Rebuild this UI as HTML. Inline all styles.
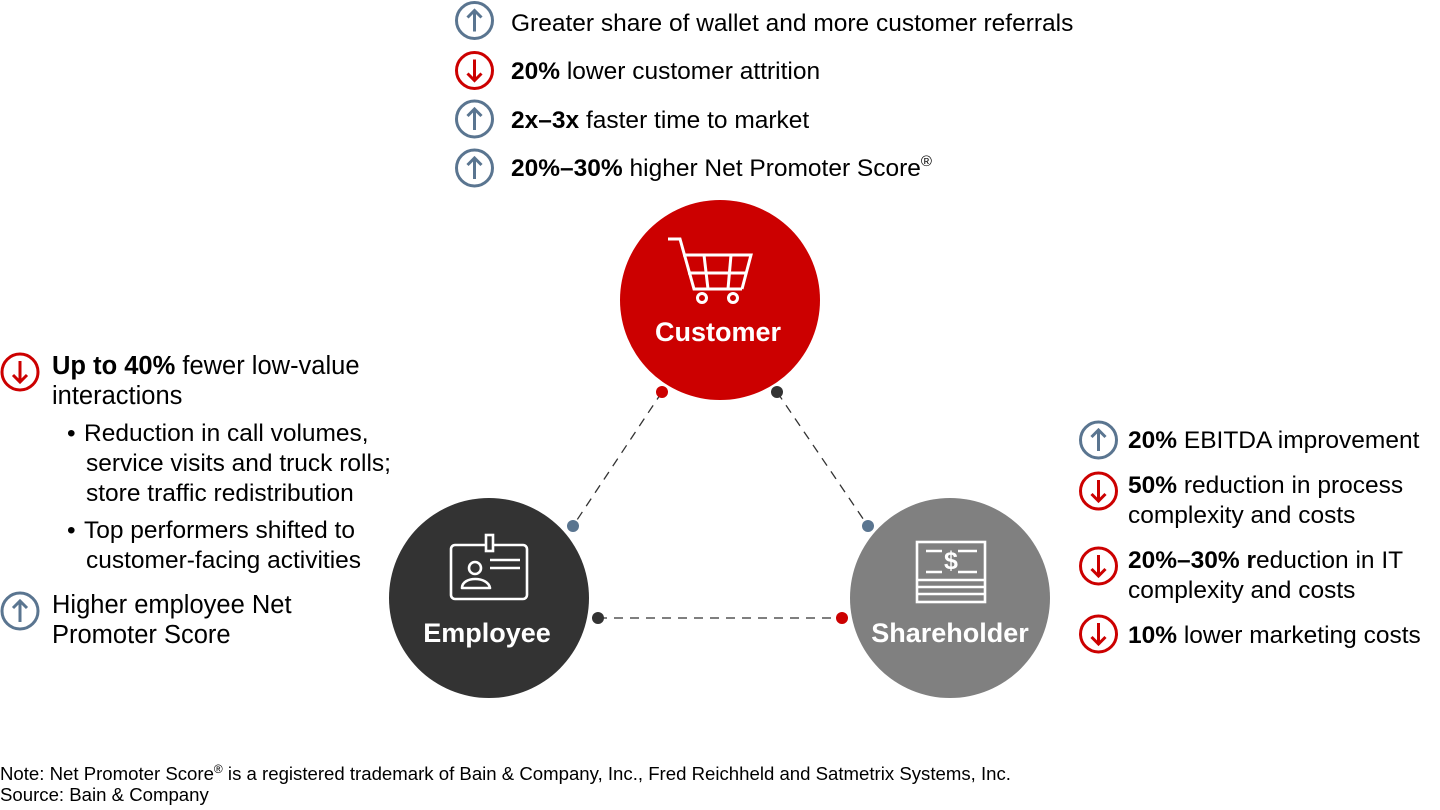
<!DOCTYPE html>
<html>
<head>
<meta charset="utf-8">
<style>
  html, body { margin:0; padding:0; background:#fff; }
  body { width:1440px; height:810px; overflow:hidden; }
  svg { display:block; }
  text { font-family: "Liberation Sans", Arial, sans-serif; fill:#000; }
  .t { font-size:24.5px; }
  .tl { font-size:25.5px; }
  .b { font-weight:bold; }
  .lbl { font-size:27px; font-weight:bold; fill:#fff; }
  .note { font-size:18.6px; }
</style>
</head>
<body>
<svg width="1440" height="810" viewBox="0 0 1440 810" xmlns="http://www.w3.org/2000/svg">
  <defs>
    <g id="up">
      <circle cx="0" cy="0" r="18" fill="none" stroke="#5a7590" stroke-width="3"/>
      <path d="M0 11 L0 -10 M-7 -3 L0 -10 L7 -3" fill="none" stroke="#5a7590" stroke-width="3" stroke-linecap="butt" stroke-linejoin="miter"/>
    </g>
    <g id="down">
      <circle cx="0" cy="0" r="18" fill="none" stroke="#cc0000" stroke-width="3"/>
      <path d="M0 -11 L0 10 M-7 3 L0 10 L7 3" fill="none" stroke="#cc0000" stroke-width="3" stroke-linecap="butt" stroke-linejoin="miter"/>
    </g>
  </defs>

  <!-- Top list -->
  <use href="#up" x="474.5" y="20.5"/>
  <text class="t" x="511" y="31">Greater share of wallet and more customer referrals</text>
  <use href="#down" x="474.5" y="70.5"/>
  <text class="t" x="511" y="79"><tspan class="b">20%</tspan> lower customer attrition</text>
  <use href="#up" x="474.5" y="119"/>
  <text class="t" x="511" y="128"><tspan class="b">2x–3x</tspan> faster time to market</text>
  <use href="#up" x="474.5" y="168"/>
  <text class="t" x="511" y="176"><tspan class="b">20%–30%</tspan> higher Net Promoter Score<tspan font-size="15" dy="-10">®</tspan></text>

  <!-- Dashed connectors -->
  <g stroke="#333" stroke-width="1.3" stroke-dasharray="9 7" fill="none">
    <line x1="662" y1="392" x2="573" y2="526"/>
    <line x1="777" y1="392" x2="868" y2="526"/>
    <line x1="598" y1="618" x2="842" y2="618"/>
  </g>

  <!-- Circles -->
  <circle cx="720" cy="300" r="100" fill="#cc0000"/>
  <circle cx="489" cy="598" r="100" fill="#333333"/>
  <circle cx="950" cy="598" r="100" fill="#808080"/>

  <!-- Dots -->
  <circle cx="662" cy="392" r="6" fill="#cc0000"/>
  <circle cx="777" cy="392" r="6" fill="#333333"/>
  <circle cx="573" cy="526" r="6" fill="#5a7590"/>
  <circle cx="598" cy="618" r="6" fill="#333333"/>
  <circle cx="868" cy="526" r="6" fill="#5a7590"/>
  <circle cx="842" cy="618" r="6" fill="#cc0000"/>

  <!-- Cart icon -->
  <g fill="none" stroke="#fff" stroke-width="3" stroke-linejoin="miter">
    <path d="M668 239 L680 239 L694 289 L742 289"/>
    <path d="M683 255 L751 255 L742 289"/>
    <path d="M688 273 L747 273"/>
    <path d="M704 255 L708 289"/>
    <path d="M731 255 L728 289"/>
    <circle cx="702" cy="298" r="4.5"/>
    <circle cx="733" cy="298" r="4.5"/>
  </g>
  <text class="lbl" x="718" y="341" text-anchor="middle">Customer</text>

  <!-- Employee badge icon -->
  <g fill="none" stroke="#fff" stroke-width="2.6">
    <rect x="451" y="545" width="76" height="54" rx="4"/>
    <rect x="486" y="535" width="7" height="16" fill="#333"/>
    <circle cx="475" cy="568" r="6"/>
    <path d="M462 588 C462 576 488 576 490 588 Z" stroke-linejoin="round"/>
    <path d="M490 560 L520 560 M490 568 L520 568"/>
  </g>
  <text class="lbl" x="487" y="642" text-anchor="middle">Employee</text>

  <!-- Shareholder icon -->
  <g fill="none" stroke="#fff" stroke-width="2.6">
    <rect x="917" y="542" width="68" height="60"/>
    <path d="M917 580 L985 580 M917 587 L985 587 M917 594 L985 594"/>
    <path d="M926 551 L942 551 M958 551 L977 551 M926 572 L942 572 M958 572 L977 572"/>
  </g>
  <text x="951" y="569" text-anchor="middle" font-size="25" font-weight="bold" style="fill:#fff">$</text>
  <text class="lbl" x="950" y="642" text-anchor="middle">Shareholder</text>

  <!-- Left block -->
  <use href="#down" x="20" y="372"/>
  <text class="tl" x="52" y="374"><tspan class="b">Up to 40%</tspan> fewer low-value</text>
  <text class="tl" x="52" y="404">interactions</text>
  <text class="t" x="67" y="441">•</text>
  <text class="t" x="84" y="441">Reduction in call volumes,</text>
  <text class="t" x="86" y="471">service visits and truck rolls;</text>
  <text class="t" x="86" y="501">store traffic redistribution</text>
  <text class="t" x="67" y="538">•</text>
  <text class="t" x="84" y="538">Top performers shifted to</text>
  <text class="t" x="86" y="568">customer-facing activities</text>
  <use href="#up" x="20" y="611"/>
  <text class="tl" x="52" y="613">Higher employee Net</text>
  <text class="tl" x="52" y="643">Promoter Score</text>

  <!-- Right block -->
  <use href="#up" x="1098.5" y="440"/>
  <text class="t" x="1128" y="448"><tspan class="b">20%</tspan> EBITDA improvement</text>
  <use href="#down" x="1098.5" y="491"/>
  <text class="t" x="1128" y="493"><tspan class="b">50%</tspan> reduction in process</text>
  <text class="t" x="1128" y="523">complexity and costs</text>
  <use href="#down" x="1098.5" y="566"/>
  <text class="t" x="1128" y="568"><tspan class="b">20%–30% r</tspan>eduction in IT</text>
  <text class="t" x="1128" y="598">complexity and costs</text>
  <use href="#down" x="1098.5" y="634"/>
  <text class="t" x="1128" y="643"><tspan class="b">10%</tspan> lower marketing costs</text>

  <!-- Footnote -->
  <text class="note" x="0" y="780">Note: Net Promoter Score<tspan font-size="12" dy="-7">®</tspan><tspan dy="7"> is a registered trademark of Bain &amp; Company, Inc., Fred Reichheld and Satmetrix Systems, Inc.</tspan></text>
  <text class="note" x="0" y="801">Source: Bain &amp; Company</text>
</svg>
</body>
</html>
